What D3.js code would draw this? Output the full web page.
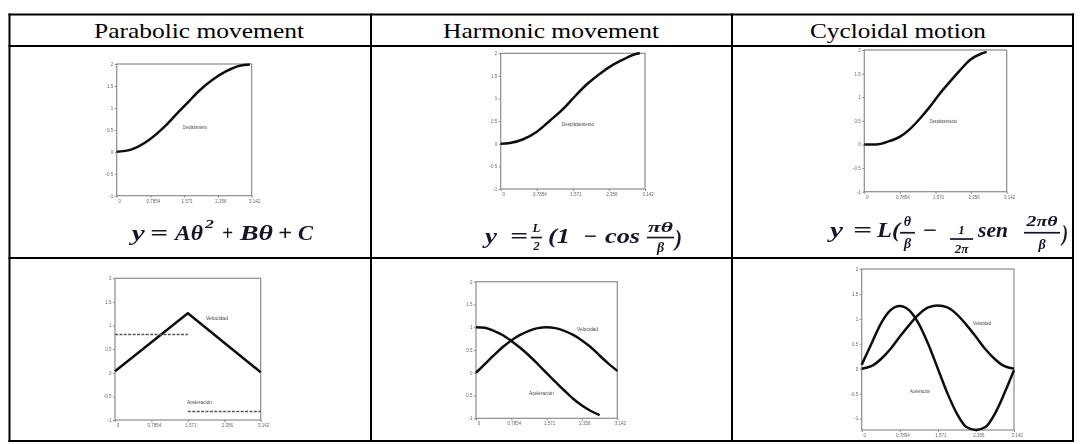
<!DOCTYPE html>
<html>
<head>
<meta charset="utf-8">
<script src="https://cdn.jsdelivr.net/npm/d3@7"></script>
<style>
  html, body { margin: 0; padding: 0; background: #fff; }
  svg { display: block; }
</style>
</head>
<body>
<svg id="chart" width="1081" height="444"></svg>
<script>
// ---- table headings ----
const headers = ["Parabolic movement", "Harmonic movement", "Cycloidal motion"];

// ---- axis ticks (θ in radians, 0..π) ----
const xTickValues = [0, 0.7854, 1.571, 2.356, 3.142];
const xTickLabels = ["0", "0.7854", "1.571", "2.356", "3.142"];
const yTickValues = [-1, -0.5, 0, 0.5, 1, 1.5, 2];
const yTickLabels = ["-1", "-0.5", "0", "0.5", "1", "1.5", "2"];

// ---- displacement curves ----
const parabolicDispTheta = [0, 0.33, 0.75, 1.12, 1.44, 1.68, 1.92, 2.23, 2.54, 2.86, 3.10];
const parabolicDisp      = [0, 0.05, 0.27, 0.58, 0.91, 1.15, 1.39, 1.64, 1.83, 1.96, 1.99];

const harmonicDispTheta = [0, 0.20, 0.49, 0.78, 1.07, 1.36, 1.58, 1.87, 2.16, 2.45, 2.74, 2.96, 3.03];
const harmonicDisp      = [0, 0.015, 0.10, 0.26, 0.51, 0.77, 1.01, 1.31, 1.55, 1.75, 1.90, 1.99, 2.00];

const cycloidDispTheta = [0, 0.26, 0.55, 0.78, 1.00, 1.22, 1.44, 1.66, 1.88, 2.11, 2.33, 2.55, 2.70];
const cycloidDisp      = [0, 0.00, 0.07, 0.16, 0.32, 0.54, 0.79, 1.07, 1.32, 1.57, 1.79, 1.91, 1.96];

// ---- velocity / acceleration curves ----
const parabolicVelTheta = [0, 1.571, 3.142];
const parabolicVel      = [0.03, 1.26, 0.01];
const parabolicAccTheta = [[0, 1.571], [1.571, 3.142]];
const parabolicAcc      = [0.81, -0.82];

const thetaSteps = [0, 0.196, 0.393, 0.589, 0.785, 0.982, 1.178, 1.374, 1.571,
                    1.767, 1.963, 2.160, 2.356, 2.553, 2.749, 2.945, 3.142];
const harmonicVel = [0.00, 0.19, 0.38, 0.56, 0.71, 0.83, 0.92, 0.98, 1.00,
                     0.98, 0.92, 0.83, 0.71, 0.56, 0.38, 0.20, 0.04];
const harmonicAcc = [1.00, 0.99, 0.92, 0.83, 0.70, 0.55, 0.38, 0.19, -0.01,
                     -0.20, -0.39, -0.57, -0.72, -0.84, -0.93];
const cycloidVel  = [0.00, 0.05, 0.19, 0.39, 0.64, 0.88, 1.09, 1.23, 1.27,
                     1.23, 1.09, 0.88, 0.64, 0.39, 0.19, 0.05, 0.00];
const cycloidAcc  = [0.08, 0.49, 0.90, 1.17, 1.26, 1.17, 0.90, 0.49, 0.00,
                     -0.49, -0.90, -1.17, -1.23, -1.17, -0.90, -0.49, -0.03];

const zip = (xs, ys) => ys.map((v, i) => ({ t: xs[i], v }));

const svg = d3.select("#chart");
const defs = svg.append("defs");
defs.append("filter").attr("id", "soft")
  .attr("x", "-5%").attr("y", "-5%").attr("width", "110%").attr("height", "110%")
  .append("feGaussianBlur").attr("stdDeviation", 0.5);
defs.append("filter").attr("id", "softText")
  .append("feGaussianBlur").attr("stdDeviation", 0.35);

// ---- table grid ----
const colEdges = [9.5, 371, 732, 1073];
const rowEdges = [14.5, 46, 258, 441];
const grid = svg.append("g").attr("stroke", "#000").attr("stroke-width", 2);
rowEdges.forEach(y => grid.append("line")
  .attr("x1", colEdges[0] - 1).attr("x2", colEdges[3] + 1).attr("y1", y).attr("y2", y));
colEdges.forEach(x => grid.append("line")
  .attr("x1", x).attr("x2", x).attr("y1", rowEdges[0] - 1).attr("y2", rowEdges[3] + 1));

const headerCenters = [199, 551, 898];
const headerWidths = [210, 216, 176];
headers.forEach((h, i) => {
  svg.append("text")
    .attr("x", headerCenters[i] - headerWidths[i] / 2).attr("y", 37.5)
    .attr("font-family", "'Liberation Serif', 'Times New Roman', serif")
    .attr("font-size", 22)
    .attr("textLength", headerWidths[i]).attr("lengthAdjust", "spacingAndGlyphs")
    .attr("fill", "#000")
    .text(h);
});

// ---- small plots ----
const panels = [
  { box: [116.7, 64, 251.7, 195.7], yDom: [-1, 2],
    lines: [{ d: zip(parabolicDispTheta, parabolicDisp) }],
    labels: [{ text: "Desplazamiento", x: 183, y: 129.3, w: 24 }] },
  { box: [500.7, 53.3, 645, 189], yDom: [-1, 2],
    lines: [{ d: zip(harmonicDispTheta, harmonicDisp) }],
    labels: [{ text: "Desplazamiento", x: 562, y: 125.5, w: 32 }] },
  { box: [864.3, 50, 1006.7, 191.7], yDom: [-1, 2],
    lines: [{ d: zip(cycloidDispTheta, cycloidDisp) }],
    labels: [{ text: "Desplazamiento", x: 930, y: 123.2, w: 27 }] },
  { box: [115, 278.3, 260.7, 420], yDom: [-1, 2],
    lines: [{ d: zip(parabolicVelTheta, parabolicVel), straight: true }]
      .concat(parabolicAccTheta.map((seg, i) => ({ d: zip(seg, [parabolicAcc[i], parabolicAcc[i]]), dashed: true }))),
    labels: [{ text: "Velocidad", x: 206, y: 319.5, w: 22 }, { text: "Aceleración", x: 187, y: 404, w: 25 }] },
  { box: [476, 281.7, 617.3, 418.3], yDom: [-1, 2],
    lines: [{ d: zip(thetaSteps, harmonicVel) }, { d: zip(thetaSteps, harmonicAcc) }],
    labels: [{ text: "Velocidad", x: 577, y: 330.5, w: 21 }, { text: "Aceleración", x: 529, y: 394.5, w: 25 }] },
  { box: [861.7, 269, 1014, 430], yDom: [-1.23, 2],
    lines: [{ d: zip(thetaSteps, cycloidVel) }, { d: zip(thetaSteps, cycloidAcc) }],
    labels: [{ text: "Velocidad", x: 973, y: 324.5, w: 18 }, { text: "Aceleración", x: 910, y: 392.5, w: 20 }] }
];

panels.forEach(p => {
  const [x0, y0, x1, y1] = p.box;
  const x = d3.scaleLinear().domain([0, Math.PI]).range([x0, x1]);
  const y = d3.scaleLinear().domain(p.yDom).range([y1, y0]);
  const g = svg.append("g").attr("filter", "url(#soft)");

  g.append("rect")
    .attr("x", x0).attr("y", y0).attr("width", x1 - x0).attr("height", y1 - y0)
    .attr("fill", "none").attr("stroke", "#8c8c8c").attr("stroke-width", 1.2);

  const yAxis = g.append("g").attr("transform", `translate(${x0},0)`)
    .call(d3.axisLeft(y).tickValues(yTickValues).tickSize(2).tickPadding(1.5)
      .tickFormat((d, i) => yTickLabels[i]));
  const xAxis = g.append("g").attr("transform", `translate(0,${y1})`)
    .call(d3.axisBottom(x).tickValues(xTickValues).tickSize(2).tickPadding(2)
      .tickFormat((d, i) => xTickLabels[i]));
  [yAxis, xAxis].forEach(a => {
    a.select(".domain").remove();
    a.selectAll(".tick line").attr("stroke", "#888");
    a.selectAll(".tick text").attr("font-size", 4.5).attr("fill", "#666")
      .attr("font-family", "Arial, 'Liberation Sans', sans-serif");
  });
  xAxis.selectAll(".tick text").attr("dx", 2.5);

  p.lines.forEach(l => {
    const gen = d3.line().x(d => x(d.t)).y(d => y(d.v))
      .curve(l.straight || l.dashed ? d3.curveLinear : d3.curveMonotoneX);
    g.append("path").datum(l.d).attr("d", gen).attr("fill", "none")
      .attr("stroke", l.dashed ? "#555" : "#111")
      .attr("stroke-width", l.dashed ? 1.3 : 2.5)
      .attr("stroke-dasharray", l.dashed ? "3,1.4" : null)
      .attr("stroke-linejoin", "round");
  });

  p.labels.forEach(lb => {
    g.append("text").attr("x", lb.x).attr("y", lb.y)
      .attr("font-size", 4.6).attr("fill", "#444")
      .attr("font-family", "Arial, 'Liberation Sans', sans-serif")
      .attr("textLength", lb.w).attr("lengthAdjust", "spacingAndGlyphs")
      .text(lb.text);
  });
});

// ---- formulas ----
const mathFont = "'Liberation Serif', 'DejaVu Serif', serif";
const fg = svg.append("g").attr("fill", "#14142a").attr("filter", "url(#softText)");
function piece(str, xPos, base, size, len, anchor) {
  const t = fg.append("text").attr("x", xPos).attr("y", base)
    .attr("font-family", mathFont).attr("font-size", size)
    .attr("font-weight", "bold").attr("font-style", "italic")
    .attr("text-anchor", anchor || "start").text(str);
  if (len) t.attr("textLength", len).attr("lengthAdjust", "spacingAndGlyphs");
  return t;
}
function bar(xa, xb, yy) {
  fg.append("rect").attr("x", xa).attr("y", yy - 0.8).attr("width", xb - xa).attr("height", 1.7);
}

// y = Aθ² + Bθ + C
piece("y", 131.7, 240, 21, 13);
piece("=", 150, 240, 21, 18);
piece("Aθ", 175, 240, 21, 28);
piece("2", 205, 228, 13, 9);
piece("+", 222, 240, 21, 11);
piece("Bθ", 240, 240, 21, 33);
piece("+", 278, 240, 21, 14);
piece("C", 298, 240, 21, 15);

// y = L/2 (1 − cos πθ/β)
piece("y", 485, 243, 21, 12);
piece("=", 510, 243, 21, 18);
piece("L", 536.5, 232, 13, null, "middle");
bar(531, 542, 237.5);
piece("2", 536.5, 250, 13, null, "middle");
piece("(1", 548, 243, 21, 22);
piece("−", 583, 243, 21, 14);
piece("cos", 605, 243, 21, 35);
piece("πθ", 660.5, 232, 14, 25, "middle");
bar(647, 674, 237.5);
piece("β", 660.5, 252, 14, null, "middle");
piece(")", 675, 246, 24, 7);

// y = L(θ/β − 1/2π sen 2πθ/β)
piece("y", 830, 237, 21, 13);
piece("=", 853, 237, 21, 19);
piece("L(", 877, 237, 21, 23);
piece("θ", 907.5, 226, 14, null, "middle");
bar(900, 915, 232.7);
piece("β", 907.5, 248, 14, null, "middle");
piece("−", 922, 237, 21, 15);
piece("1", 961.5, 234, 13, null, "middle");
bar(950, 973, 239);
piece("2π", 961.5, 253, 13, null, "middle");
piece("sen", 978, 237, 21, 30);
piece("2πθ", 1042, 226, 14, 31, "middle");
bar(1024, 1060, 232.7);
piece("β", 1042, 249, 14, null, "middle");
piece(")", 1062, 241, 24, 6);
</script>
</body>
</html>
